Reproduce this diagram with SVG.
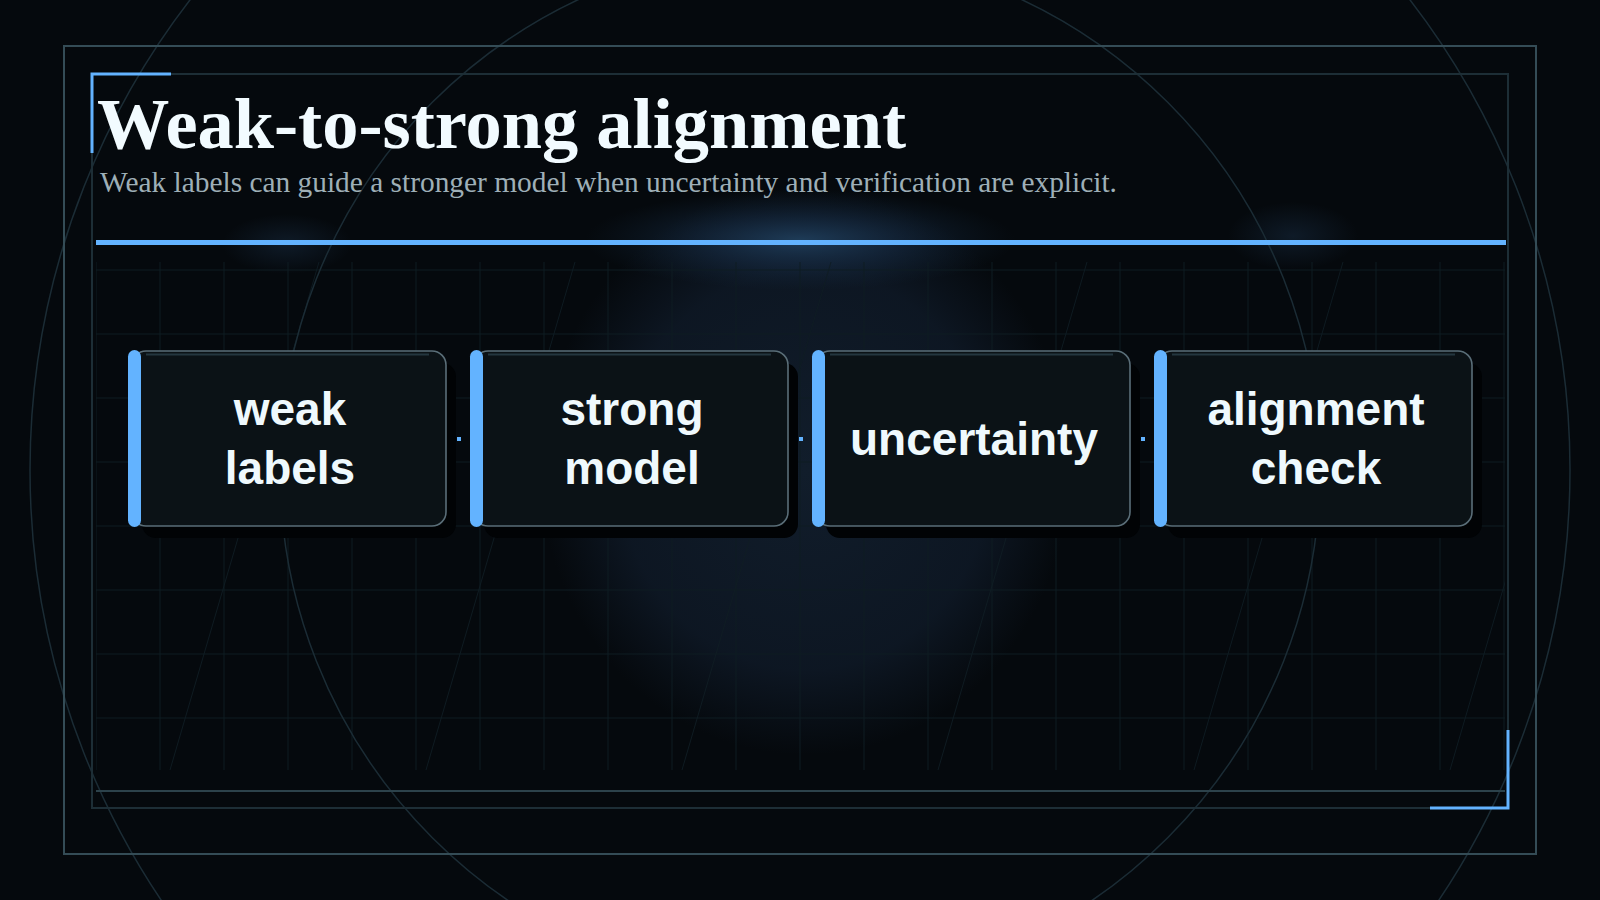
<svg xmlns="http://www.w3.org/2000/svg" width="1600" height="900" viewBox="0 0 1600 900">
  <defs>
    <radialGradient id="gCenter" cx="0.5" cy="0.5" r="0.5">
      <stop offset="0" stop-color="#111d2b" stop-opacity="1"/>
      <stop offset="0.7" stop-color="#0e1825" stop-opacity="0.9"/>
      <stop offset="1" stop-color="#0e1825" stop-opacity="0"/>
    </radialGradient>
    <radialGradient id="gTop" cx="0.5" cy="0.5" r="0.5">
      <stop offset="0" stop-color="#20405e" stop-opacity="0.9"/>
      <stop offset="0.5" stop-color="#1a3350" stop-opacity="0.45"/>
      <stop offset="1" stop-color="#142a40" stop-opacity="0"/>
    </radialGradient>
    <radialGradient id="gSmall" cx="0.5" cy="0.5" r="0.5">
      <stop offset="0" stop-color="#1a3048" stop-opacity="0.45"/>
      <stop offset="1" stop-color="#1a3048" stop-opacity="0"/>
    </radialGradient>
    <clipPath id="gridClip">
      <rect x="96" y="262" width="1409" height="508"/>
    </clipPath>
    <style>
      .grid line { stroke: #0f1c22; stroke-width: 1; }
      .diag line { stroke: #101d24; stroke-width: 0.9; }
      .ring { fill: none; stroke: #1b2c35; stroke-width: 1.5; }
      .accent { fill: none; stroke: #63b3ff; stroke-width: 3; }
      .shadow { fill: #010305; }
      .box { fill: #0b1216; stroke: #5a6e78; stroke-width: 1.6; }
      .hl { stroke: #24363f; stroke-width: 2; }
      .bar { fill: #63b3ff; }
      .label { font-family: "Liberation Sans", Arial, sans-serif; font-weight: bold; font-size: 46px; fill: #eff9fd; text-anchor: middle; }
      .conn line { stroke: #63b3ff; stroke-width: 4; }
    </style>
  </defs>

  <!-- background -->
  <rect x="0" y="0" width="1600" height="900" fill="#05090d"/>
  <ellipse cx="805" cy="470" rx="265" ry="285" fill="url(#gCenter)"/>
  <ellipse cx="800" cy="240" rx="215" ry="50" fill="url(#gTop)"/>
  <ellipse cx="287" cy="244" rx="65" ry="30" fill="url(#gSmall)"/>
  <ellipse cx="1293" cy="236" rx="65" ry="34" fill="url(#gSmall)"/>

  <!-- grid -->
  <g clip-path="url(#gridClip)">
    <g class="grid">
      <line x1="96" y1="262" x2="96" y2="770"/>
      <line x1="160" y1="262" x2="160" y2="770"/>
      <line x1="224" y1="262" x2="224" y2="770"/>
      <line x1="288" y1="262" x2="288" y2="770"/>
      <line x1="352" y1="262" x2="352" y2="770"/>
      <line x1="416" y1="262" x2="416" y2="770"/>
      <line x1="480" y1="262" x2="480" y2="770"/>
      <line x1="544" y1="262" x2="544" y2="770"/>
      <line x1="608" y1="262" x2="608" y2="770"/>
      <line x1="672" y1="262" x2="672" y2="770"/>
      <line x1="736" y1="262" x2="736" y2="770"/>
      <line x1="800" y1="262" x2="800" y2="770"/>
      <line x1="864" y1="262" x2="864" y2="770"/>
      <line x1="928" y1="262" x2="928" y2="770"/>
      <line x1="992" y1="262" x2="992" y2="770"/>
      <line x1="1056" y1="262" x2="1056" y2="770"/>
      <line x1="1120" y1="262" x2="1120" y2="770"/>
      <line x1="1184" y1="262" x2="1184" y2="770"/>
      <line x1="1248" y1="262" x2="1248" y2="770"/>
      <line x1="1312" y1="262" x2="1312" y2="770"/>
      <line x1="1376" y1="262" x2="1376" y2="770"/>
      <line x1="1440" y1="262" x2="1440" y2="770"/>
      <line x1="1504" y1="262" x2="1504" y2="770"/>
      <line x1="96" y1="270" x2="1505" y2="270"/>
      <line x1="96" y1="334" x2="1505" y2="334"/>
      <line x1="96" y1="398" x2="1505" y2="398"/>
      <line x1="96" y1="462" x2="1505" y2="462"/>
      <line x1="96" y1="526" x2="1505" y2="526"/>
      <line x1="96" y1="590" x2="1505" y2="590"/>
      <line x1="96" y1="654" x2="1505" y2="654"/>
      <line x1="96" y1="718" x2="1505" y2="718"/>
    </g>
    <g class="diag">
      <line x1="63" y1="262" x2="-86" y2="770"/>
      <line x1="319" y1="262" x2="170" y2="770"/>
      <line x1="575" y1="262" x2="426" y2="770"/>
      <line x1="831" y1="262" x2="682" y2="770"/>
      <line x1="1087" y1="262" x2="938" y2="770"/>
      <line x1="1343" y1="262" x2="1194" y2="770"/>
      <line x1="1599" y1="262" x2="1450" y2="770"/>
    </g>
  </g>

  <!-- rings -->
  <circle class="ring" cx="800" cy="470" r="520"/>
  <circle class="ring" cx="800" cy="470" r="770"/>

  <!-- frames -->
  <rect x="64" y="46" width="1472" height="808" fill="none" stroke="#344c56" stroke-width="2"/>
  <rect x="92" y="74" width="1416" height="734" fill="none" stroke="#1d2e36" stroke-width="2"/>
  <line x1="96" y1="791" x2="1505" y2="791" stroke="#2c424b" stroke-width="2"/>
  <path class="accent" d="M92 153 V74 H171"/>
  <path class="accent" d="M1508 730 V808 H1430"/>

  <!-- header -->
  <g id="header">
    <text x="97" y="148" font-family="'Liberation Serif', 'Times New Roman', serif" font-weight="bold" font-size="72.4" fill="#f2fbff">Weak-to-strong alignment</text>
    <text x="100" y="192" font-family="'Liberation Serif', 'Times New Roman', serif" font-size="29.4" fill="#9eafb7">Weak labels can guide a stronger model when uncertainty and verification are explicit.</text>
    <rect x="96" y="240" width="1410" height="5" fill="#63b3ff"/>
  </g>

  <!-- connectors -->
  <g id="connectors" class="conn">
    <line x1="457" y1="439" x2="461" y2="439"/>
    <line x1="799" y1="439" x2="803" y2="439"/>
    <line x1="1141" y1="439" x2="1145" y2="439"/>
  </g>

  <!-- nodes -->
  <g id="node-weak-labels">
    <rect class="shadow" x="142" y="363" width="314" height="175" rx="14"/>
    <rect class="box" x="132" y="351" width="314" height="175" rx="14"/>
    <line class="hl" x1="146" y1="354.5" x2="429" y2="354.5"/>
    <rect class="bar" x="128" y="350" width="13" height="177" rx="6.5"/>
    <text class="label" x="290" y="425">weak</text>
    <text class="label" x="290" y="484">labels</text>
  </g>
  <g id="node-strong-model">
    <rect class="shadow" x="484" y="363" width="314" height="175" rx="14"/>
    <rect class="box" x="474" y="351" width="314" height="175" rx="14"/>
    <line class="hl" x1="488" y1="354.5" x2="771" y2="354.5"/>
    <rect class="bar" x="470" y="350" width="13" height="177" rx="6.5"/>
    <text class="label" x="632" y="425">strong</text>
    <text class="label" x="632" y="484">model</text>
  </g>
  <g id="node-uncertainty">
    <rect class="shadow" x="826" y="363" width="314" height="175" rx="14"/>
    <rect class="box" x="816" y="351" width="314" height="175" rx="14"/>
    <line class="hl" x1="830" y1="354.5" x2="1113" y2="354.5"/>
    <rect class="bar" x="812" y="350" width="13" height="177" rx="6.5"/>
    <text class="label" x="974" y="455">uncertainty</text>
  </g>
  <g id="node-alignment-check">
    <rect class="shadow" x="1168" y="363" width="314" height="175" rx="14"/>
    <rect class="box" x="1158" y="351" width="314" height="175" rx="14"/>
    <line class="hl" x1="1172" y1="354.5" x2="1455" y2="354.5"/>
    <rect class="bar" x="1154" y="350" width="13" height="177" rx="6.5"/>
    <text class="label" x="1316" y="425">alignment</text>
    <text class="label" x="1316" y="484">check</text>
  </g>
</svg>
